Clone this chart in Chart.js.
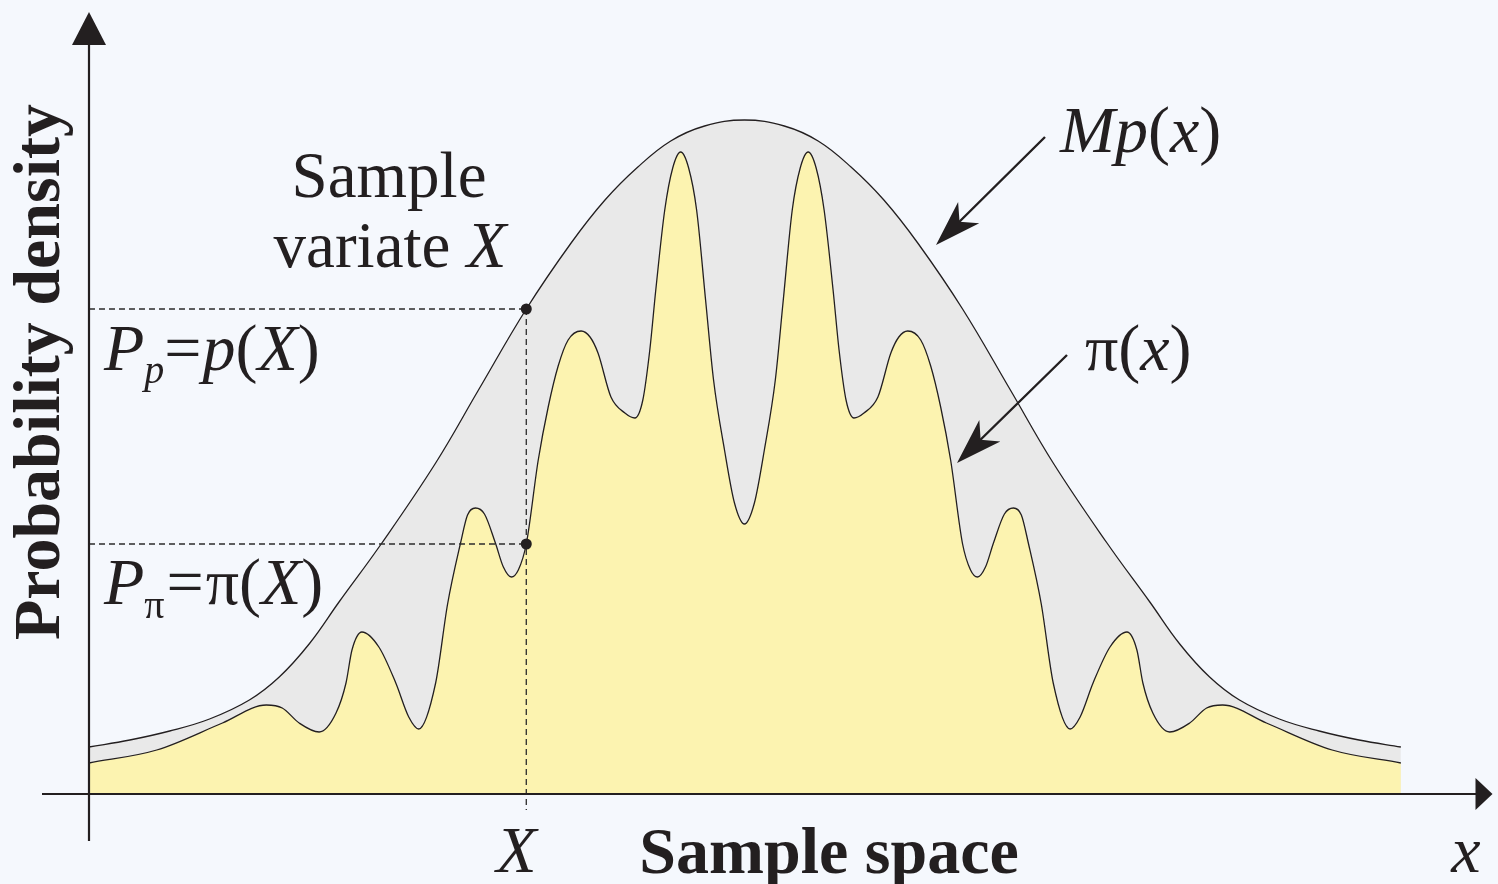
<!DOCTYPE html>
<html>
<head>
<meta charset="utf-8">
<script src="https://cdn.jsdelivr.net/npm/chart.js@4.4.1/dist/chart.umd.min.js"></script>
<style>
  html, body { margin:0; padding:0; background:#f5f8fd; }
  #wrap { width:1498px; height:884px; }
</style>
</head>
<body>
<div id="wrap"><canvas id="chart" width="1498" height="884"></canvas></div>
<script>
// envelope M·p(x)
const envX = [-6.58,-6.17,-5.77,-5.37,-4.97,-4.67,-4.37,-4.07,-3.64,-3.10,-2.67,-2.19,-1.74,-1.40,-1.07,-0.74,-0.40,0,
  0.40,0.74,1.07,1.40,1.74,2.19,2.67,3.10,3.64,4.07,4.37,4.67,4.97,5.37,5.77,6.17,6.59];
const envY = [.047,.054,.063,.075,.094,.117,.150,.192,.251,.331,.404,.485,.551,.594,.627,.653,.668,.674,
  .668,.653,.627,.594,.551,.485,.404,.331,.251,.192,.150,.117,.094,.075,.063,.054,.047];

// target density pi(x)
const piX = [-6.58,-5.90,-5.24,-4.80,-4.64,-4.47,-4.27,-4.10,-4.00,-3.94,-3.84,-3.67,-3.50,-3.37,-3.27,-3.10,-2.98,-2.85,-2.78,-2.70,
  -2.61,-2.50,-2.42,-2.34,-2.27,-2.19,-2.07,-1.97,-1.87,-1.77,-1.64,-1.55,-1.47,-1.34,-1.20,-1.10,-1.02,-0.95,-0.89,-0.80,
  -0.72,-0.64,-0.56,-0.48,-0.39,-0.31,-0.20,-0.10,0,
  0.10,0.20,0.31,0.39,0.48,0.56,0.64,0.72,0.80,0.89,0.95,1.02,1.10,1.20,1.34,1.47,1.55,1.64,1.77,1.87,1.97,2.07,2.19,2.27,
  2.34,2.42,2.50,2.61,2.70,2.78,2.85,2.98,3.10,3.27,3.37,3.50,3.67,3.84,3.94,4.00,4.10,4.27,4.47,4.64,4.80,5.24,5.90,6.59];
const piY = [.031,.044,.071,.089,.086,.071,.062,.081,.111,.144,.162,.147,.111,.077,.065,.111,.190,.251,.279,.286,
  .280,.251,.227,.217,.224,.250,.334,.387,.428,.454,.463,.457,.441,.397,.381,.376,.394,.444,.504,.584,
  .626,.642,.626,.584,.494,.414,.344,.291,.270,
  .291,.344,.414,.494,.584,.626,.642,.626,.584,.504,.444,.394,.376,.381,.397,.441,.457,.463,.454,.428,.387,.334,.250,.224,
  .217,.227,.251,.280,.286,.279,.251,.190,.111,.065,.077,.111,.147,.162,.144,.111,.081,.062,.071,.086,.089,.071,.044,.031];

// the sample variate and its two densities
const sampleX = -2.19;
const densP = 0.485;
const densPi = 0.250;

const xMin = -6.58, xMax = 7.51, yMax = 0.782;

const ink = '#231f20';
const serif = '"Liberation Serif", "Times New Roman", serif';
const pts = (xs, ys) => xs.map((x, i) => ({ x, y: ys[i] }));

function head(ctx, tx, ty, fx, fy, len, half, notch) {
  const a = Math.atan2(ty - fy, tx - fx);
  ctx.save();
  ctx.translate(tx, ty); ctx.rotate(a);
  ctx.beginPath();
  ctx.moveTo(0, 0); ctx.lineTo(-len, -half); ctx.lineTo(-len * notch, 0); ctx.lineTo(-len, half);
  ctx.closePath(); ctx.fill();
  ctx.restore();
}

function runs(ctx, x, y, parts) {
  parts.forEach(p => {
    ctx.font = p.f;
    ctx.fillText(p.t, x, y + (p.dy || 0));
    x += ctx.measureText(p.t).width + (p.k || 0);
  });
}
const it = s => `italic ${s}px ${serif}`;
const rm = s => `${s}px ${serif}`;

const decor = {
  id: 'decor',
  beforeDraw(c) {
    const ctx = c.ctx;
    ctx.save(); ctx.fillStyle = '#f5f8fd'; ctx.fillRect(0, 0, c.width, c.height); ctx.restore();
  },
  beforeDatasetDraw(c, args) {
    // guides go over the fills but under the two sample dots
    if (args.index !== 0) return;
    const ctx = c.ctx, xs = c.scales.x, ys = c.scales.y;
    const ox = xs.getPixelForValue(xMin), oy = ys.getPixelForValue(0);
    const sx = xs.getPixelForValue(sampleX);
    const yp = ys.getPixelForValue(densP), ypi = ys.getPixelForValue(densPi);
    ctx.save();
    ctx.strokeStyle = '#2b2b2b'; ctx.lineWidth = 1.3; ctx.setLineDash([6, 4]);
    ctx.beginPath();
    ctx.moveTo(ox, yp); ctx.lineTo(sx, yp);
    ctx.moveTo(ox, ypi); ctx.lineTo(sx, ypi);
    ctx.moveTo(sx, yp); ctx.lineTo(sx, oy + 16);
    ctx.stroke();
    ctx.restore();
  },
  afterDatasetsDraw(c) {
    const ctx = c.ctx, xs = c.scales.x, ys = c.scales.y;
    const ox = xs.getPixelForValue(xMin), oy = ys.getPixelForValue(0);
    const sx = xs.getPixelForValue(sampleX);
    ctx.save();

    // axes
    ctx.strokeStyle = ink; ctx.fillStyle = ink; ctx.lineWidth = 2.2;
    const top = ys.getPixelForValue(yMax), right = xs.getPixelForValue(xMax);
    ctx.beginPath();
    ctx.moveTo(ox - 47, oy); ctx.lineTo(right - 12, oy);
    ctx.moveTo(ox, oy + 47); ctx.lineTo(ox, top + 20);
    ctx.stroke();
    head(ctx, right, oy, right - 100, oy, 17, 16, 1);
    head(ctx, ox, top, ox, top + 100, 33, 17, 1);

    // leader arrows
    ctx.lineWidth = 2.4;
    ctx.beginPath();
    ctx.moveTo(1045, 137); ctx.lineTo(950, 231);
    ctx.moveTo(1067, 355); ctx.lineTo(971, 449);
    ctx.stroke();
    head(ctx, 936, 245, 1045, 137, 46, 15, 0.72);
    head(ctx, 957, 463, 1067, 355, 46, 15, 0.72);

    // text
    ctx.textBaseline = 'alphabetic';
    ctx.textAlign = 'left';
    runs(ctx, 1060, 152, [{ t: 'M', f: it(66) }, { t: 'p', f: it(66) }, { t: '(', f: rm(66) }, { t: 'x', f: it(66) }, { t: ')', f: rm(66) }]);
    runs(ctx, 1085, 370, [{ t: 'π', f: rm(66) }, { t: '(', f: rm(66) }, { t: 'x', f: it(66) }, { t: ')', f: rm(66) }]);
    runs(ctx, 104, 370, [{ t: 'P', f: it(66) }, { t: 'p', f: it(40), dy: 13 }, { t: '=', f: rm(66), k: 1 },
      { t: 'p', f: it(66) }, { t: '(', f: rm(66) }, { t: 'X', f: it(66) }, { t: ')', f: rm(66) }]);
    runs(ctx, 104, 604, [{ t: 'P', f: it(66) }, { t: 'π', f: rm(40), dy: 14, k: 2 }, { t: '=', f: rm(66), k: 2 },
      { t: 'π', f: rm(66) }, { t: '(', f: rm(66) }, { t: 'X', f: it(66) }, { t: ')', f: rm(66) }]);

    ctx.textAlign = 'center';
    ctx.font = rm(65);
    ctx.fillText('Sample', 389, 197);
    ctx.font = rm(65); const w1 = ctx.measureText('variate ').width;
    ctx.font = it(65); const w2 = ctx.measureText('X').width;
    ctx.textAlign = 'left';
    runs(ctx, 390 - (w1 + w2) / 2, 267, [{ t: 'variate ', f: rm(65) }, { t: 'X', f: it(65) }]);

    ctx.textAlign = 'center';
    ctx.font = it(66);
    ctx.fillText('X', sx - 10, 872);
    ctx.fillText('x', 1466, 872);
    ctx.font = `bold 66px ${serif}`;
    ctx.fillText('Sample space', 829, 873);
    ctx.translate(59, 372); ctx.rotate(-Math.PI / 2);
    ctx.fillText('Probability density', 0, 0);
    ctx.restore();
  }
};

new Chart(document.getElementById('chart'), {
  type: 'line',
  data: {
    datasets: [
      { type: 'scatter', data: [{ x: sampleX, y: densP }, { x: sampleX, y: densPi }],
        pointRadius: 5.5, pointBackgroundColor: ink, pointBorderColor: ink, pointBorderWidth: 0, showLine: false, order: 0 },
      { data: pts(piX, piY), fill: 'origin', backgroundColor: '#fcf3b0', borderColor: ink, borderWidth: 1.3,
        pointRadius: 0, cubicInterpolationMode: 'monotone', order: 1 },
      { data: pts(envX, envY), fill: 'origin', backgroundColor: '#e9e9e9', borderColor: ink, borderWidth: 1.3,
        pointRadius: 0, tension: 0.4, order: 2 }
    ]
  },
  options: {
    responsive: false,
    animation: false,
    events: [],
    layout: { padding: { left: 89, right: 0, top: 12, bottom: 90 } },
    scales: {
      x: { type: 'linear', min: xMin, max: xMax, display: false },
      y: { min: 0, max: yMax, display: false }
    },
    plugins: { legend: { display: false }, tooltip: { enabled: false } }
  },
  plugins: [decor]
});
</script>
</body>
</html>
